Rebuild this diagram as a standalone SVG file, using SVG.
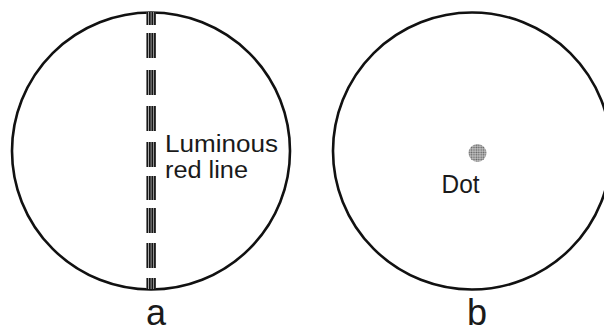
<svg xmlns="http://www.w3.org/2000/svg" width="604" height="333" viewBox="0 0 604 333">
  <style>
    .ring { fill: none; stroke: #111; stroke-width: 2.6; }
    .lbl { font-family: "Liberation Sans", Arial, sans-serif; fill: #1a1a1a; }
    .seg { fill: url(#stripes); }
  </style>
  <defs>
    <pattern id="stripes" patternUnits="userSpaceOnUse" x="146.3" y="0" width="2.6" height="10">
      <rect x="0" y="0" width="2.6" height="10" fill="#b8b8b8"/>
      <rect x="0" y="0" width="1.8" height="10" fill="#161616"/>
    </pattern>
    <pattern id="halftone" patternUnits="userSpaceOnUse" width="2.4" height="2.4">
      <rect width="2.4" height="2.4" fill="#c4c4c4"/>
      <circle cx="1.2" cy="1.2" r="0.85" fill="#5e5e5e"/>
    </pattern>
  </defs>
  <rect width="604" height="333" fill="#ffffff"/>

  <g id="view-a">
    <ellipse class="ring" cx="151" cy="151" rx="139" ry="138.5"/>
    <g id="luminous-line">
      <rect class="seg" x="146.3" y="12" width="9.6" height="13"/>
      <rect class="seg" x="146.3" y="33" width="9.6" height="25"/>
      <rect class="seg" x="146.3" y="70" width="9.6" height="25"/>
      <rect class="seg" x="146.3" y="106" width="9.6" height="25"/>
      <rect class="seg" x="146.3" y="142" width="9.6" height="25"/>
      <rect class="seg" x="146.3" y="176" width="9.6" height="24"/>
      <rect class="seg" x="146.3" y="208" width="9.6" height="25"/>
      <rect class="seg" x="146.3" y="243" width="9.6" height="25"/>
      <rect class="seg" x="146.3" y="278" width="9.6" height="11"/>
    </g>
    <text class="lbl" x="165" y="151.5" font-size="23" textLength="113" lengthAdjust="spacingAndGlyphs">Luminous</text>
    <text class="lbl" x="165" y="178" font-size="23" textLength="83" lengthAdjust="spacingAndGlyphs">red line</text>
    <text class="lbl" x="156" y="325" font-size="36" text-anchor="middle">a</text>
  </g>

  <g id="view-b">
    <ellipse class="ring" cx="472" cy="151" rx="139" ry="138.5"/>
    <circle id="dot" cx="477.5" cy="153" r="9" fill="url(#halftone)"/>
    <text class="lbl" x="441.5" y="193" font-size="25" textLength="38" lengthAdjust="spacingAndGlyphs">Dot</text>
    <text class="lbl" x="477" y="325" font-size="36" text-anchor="middle">b</text>
  </g>
</svg>
